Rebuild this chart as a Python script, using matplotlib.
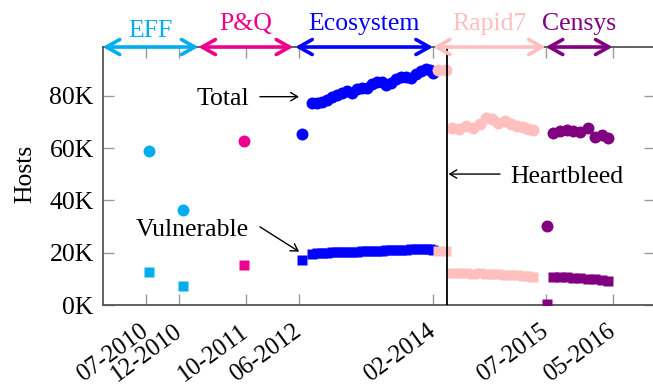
"""
Hosts over time: total vs. vulnerable, coloured by data source.
"""

import pandas as pd
import matplotlib
matplotlib.use('Agg')
import matplotlib.pyplot as plt
import matplotlib.dates as mdates

# Times-like serif, same as the paper
plt.rcParams['font.family'] = ['Liberation Serif', 'DejaVu Serif']
plt.rcParams['font.size'] = 18.5

# ---- data (hosts, in thousands) ----
eff_dates = ['2010-07-15', '2010-12-17']
eff_total = [59.1, 36.4]
eff_vuln = [12.5, 7.2]

pq_dates = ['2011-09-20']
pq_total = [62.9]
pq_vuln = [15.2]

eco_dates = ['2012-06-11', '2012-07-30', '2012-08-22', '2012-09-13', '2012-10-06',
             '2012-10-29', '2012-11-21', '2012-12-13', '2013-01-05', '2013-01-28',
             '2013-02-20', '2013-03-15', '2013-04-07', '2013-04-30', '2013-05-22',
             '2013-06-14', '2013-07-02', '2013-07-25', '2013-08-17', '2013-09-09',
             '2013-10-01', '2013-10-24', '2013-11-16', '2013-12-09', '2014-01-01',
             '2014-01-19', '2014-02-02']
eco_total = [65.4, 77.2, 77.4, 77.7, 78.4, 79.4, 80.3, 81.3, 81.7, 81.1,
             82.8, 83.2, 83.0, 84.6, 85.5, 85.3, 84.0, 85.1, 86.5, 87.4,
             87.2, 87.0, 88.4, 89.5, 90.3, 89.9, 88.8]
eco_vuln = [17.1, 19.7, 19.8, 19.9, 20.0, 20.1, 20.1, 20.2, 20.3, 20.4,
            20.4, 20.5, 20.6, 20.7, 20.8, 20.8, 20.9, 21.0, 21.1, 21.2,
            21.2, 21.3, 21.3, 21.4, 21.4, 21.3, 21.2]

rapid7_dates = ['2014-02-24', '2014-04-01', '2014-04-28', '2014-05-30', '2014-07-01',
                '2014-08-03', '2014-09-04', '2014-10-01', '2014-10-29', '2014-11-25',
                '2014-12-27', '2015-01-24', '2015-02-20', '2015-03-19', '2015-04-11',
                '2015-05-04']
rapid7_total = [89.9, 90.0, 67.8, 67.5, 68.5, 67.9, 69.3, 71.5, 71.0, 69.7,
                70.3, 69.2, 68.5, 68.2, 67.3, 67.0]
rapid7_vuln = [20.6, 20.6, 12.2, 12.1, 12.1, 12.0, 12.1, 11.9, 11.8, 11.7,
               11.5, 11.4, 11.3, 11.1, 11.0, 10.9]

censys_dates = ['2015-07-05', '2015-08-04', '2015-09-03', '2015-10-04', '2015-11-03',
                '2015-12-03', '2016-01-11', '2016-02-11', '2016-03-12', '2016-04-12']
censys_total = [30.3, 65.7, 66.6, 66.9, 66.6, 66.3, 67.8, 64.4, 65.0, 63.8]
censys_vuln = [0.2, 10.8, 10.7, 10.6, 10.5, 10.4, 10.1, 9.8, 9.5, 9.3]

# data source periods shown above the plot
period_names = ['EFF', 'P&Q', 'Ecosystem', 'Rapid7', 'Censys']
period_starts = ['2009-12-16', '2011-02-26', '2012-05-13', '2014-02-01', '2015-07-01']
period_ends = ['2011-02-26', '2012-05-04', '2014-02-01', '2015-07-01', '2016-05-01']
period_colors = ['#00AEEF', '#EC008C', '#0000FF', '#FFBFBF', '#800080']

tick_dates = ['2010-07-01', '2010-12-01', '2011-10-01', '2012-06-01',
              '2014-02-01', '2015-07-01', '2016-05-01']
tick_labels = ['07-2010', '12-2010', '10-2011', '06-2012', '02-2014', '07-2015', '05-2016']
y_ticks = [0, 20, 40, 60, 80]

heartbleed_date = '2014-04-08'


def d2n(dates):
    return mdates.date2num(pd.to_datetime(dates))


def plot_hosts():
    fig = plt.figure(figsize=(6.53, 3.88), dpi=100)
    ax = fig.add_axes([0.1573, 0.2139, 0.8458, 0.6649])

    series = [
        (eff_dates, eff_total, eff_vuln),
        (pq_dates, pq_total, pq_vuln),
        (eco_dates, eco_total, eco_vuln),
        (rapid7_dates, rapid7_total, rapid7_vuln),
        (censys_dates, censys_total, censys_vuln),
    ]
    for (dates, total, vuln), color in zip(series, period_colors):
        x = d2n(dates)
        ax.plot(x, total, 'o', color=color, ms=8.6, mec='none', zorder=3)
        ax.plot(x, vuln, 's', color=color, ms=7, mec='none', zorder=3)

    # Heartbleed disclosure
    hb = d2n([heartbleed_date])[0]
    ax.axvline(hb, color='black', lw=1.3, zorder=4)

    ax.set_xlim(d2n(['2009-12-16'])[0], d2n(['2016-11-11'])[0])
    ax.set_ylim(0, 98.7)
    ax.set_xticks(d2n(tick_dates))
    ax.set_xticklabels(tick_labels, rotation=36, ha='right', va='center',
                       rotation_mode='anchor', fontsize=17.7)
    ax.set_yticks(y_ticks)
    ax.set_yticklabels([f'{v}K' for v in y_ticks])
    ax.tick_params(direction='in', top=True, right=True, length=8, width=1,
                   color='#999999')
    ax.tick_params(axis='x', pad=17.5)
    ax.tick_params(axis='y', pad=6.5)
    for sp in ax.spines.values():
        sp.set_color('#555555')
        sp.set_linewidth(1.3)
    ax.set_ylabel('Hosts')
    ax.yaxis.set_label_coords(-0.12, 0.51)

    # source periods as double arrows on the top spine
    for name, s, e, c in zip(period_names, period_starts, period_ends, period_colors):
        xs, xe = d2n([s, e])
        ax.annotate('', xy=(xe, 1), xytext=(xs, 1),
                    xycoords=('data', 'axes fraction'),
                    textcoords=('data', 'axes fraction'),
                    arrowprops=dict(arrowstyle='<->,head_length=0.48,head_width=0.27',
                                    color=c, lw=2.6, shrinkA=0, shrinkB=0,
                                    mutation_scale=20),
                    annotation_clip=False, zorder=5)
        # like a TeX node anchored south: labels with descenders sit higher
        y = 1.066 if any(ch in 'gjpqyQ' for ch in name) else 1.040
        ax.text((xs + xe) / 2, y, name, color=c, ha='center', va='baseline',
                transform=ax.get_xaxis_transform())

    # callouts
    arrow = dict(arrowstyle='->,head_length=0.5,head_width=0.3', color='black',
                 lw=1, shrinkA=0, shrinkB=0, mutation_scale=10)
    ax.annotate('', xy=(d2n(['2012-05-30'])[0], 79.7),
                xytext=(d2n(['2011-12-04'])[0], 79.7), arrowprops=arrow)
    ax.text(d2n(['2011-10-16'])[0], 76.5, 'Total', ha='right', va='baseline')

    ax.annotate('', xy=(d2n(['2012-05-31'])[0], 20.4),
                xytext=(d2n(['2011-12-04'])[0], 29.9), arrowprops=arrow)
    ax.text(d2n(['2011-10-16'])[0], 26.4, 'Vulnerable', ha='right', va='baseline')

    ax.annotate('', xy=(hb + 5, 50.1),
                xytext=(d2n(['2014-12-04'])[0], 50.1), arrowprops=arrow)
    ax.text(d2n(['2015-01-19'])[0], 46.7, 'Heartbleed', ha='left', va='baseline')

    fig.savefig('out.png', dpi=100)
    plt.close(fig)


if __name__ == "__main__":
    plot_hosts()
